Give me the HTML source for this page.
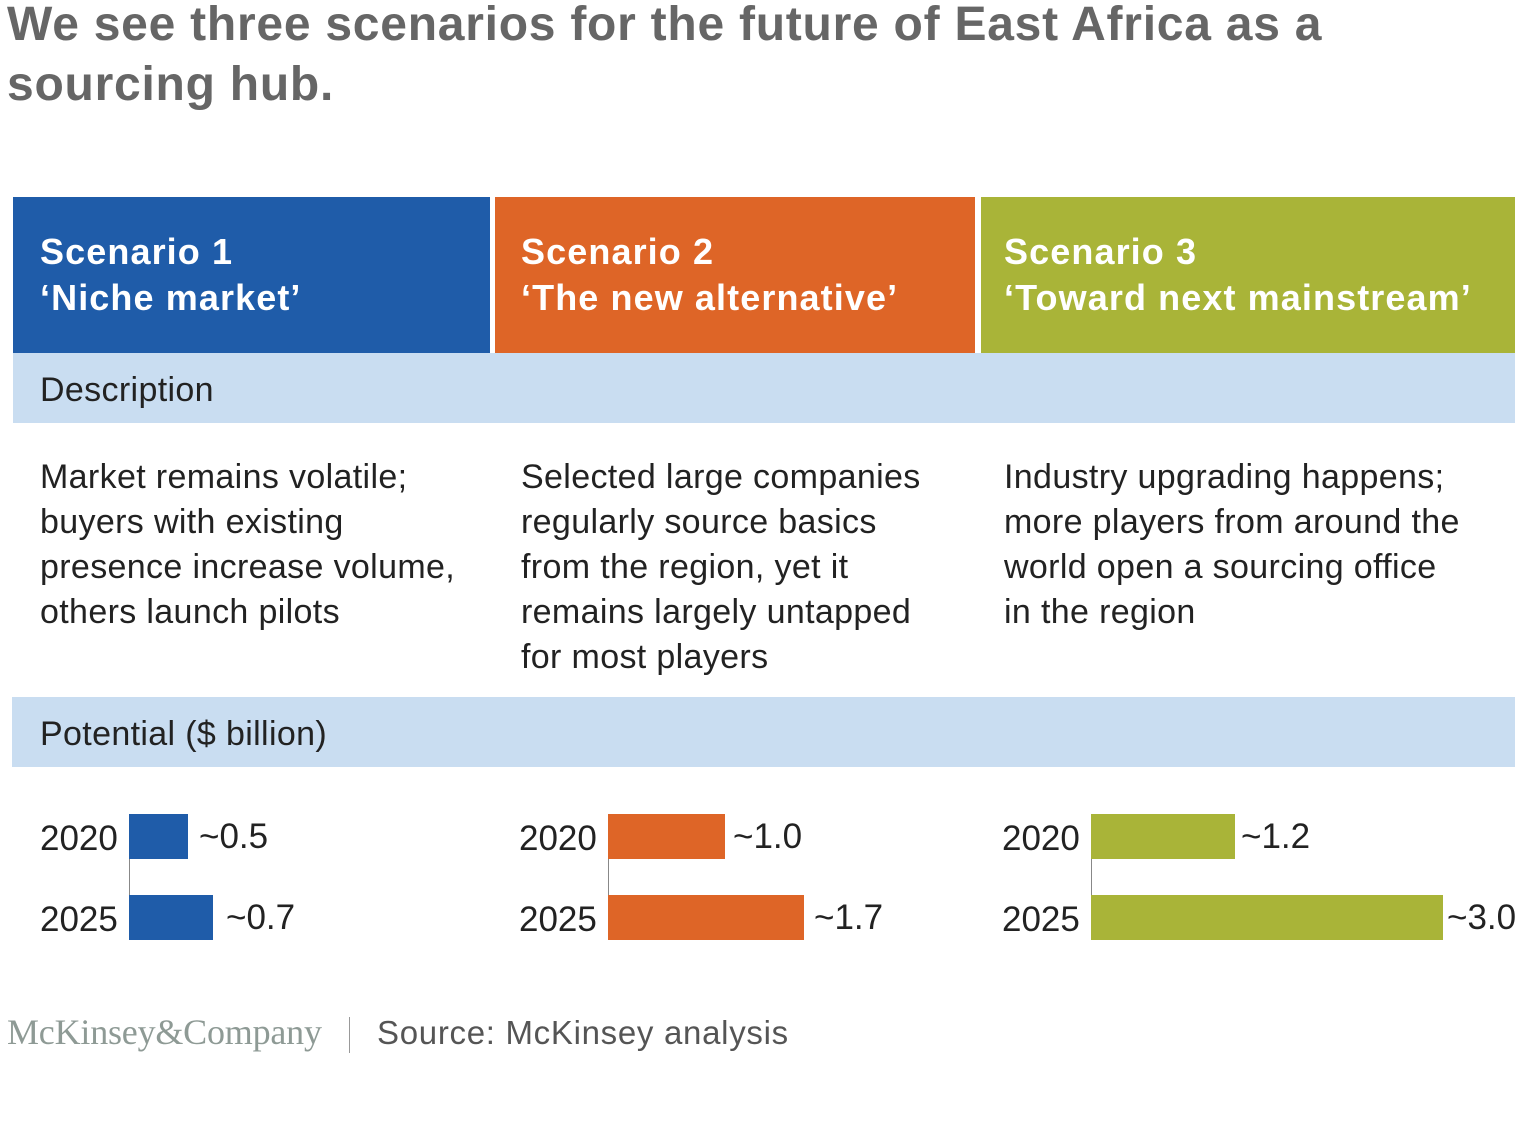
<!DOCTYPE html>
<html><head><meta charset="utf-8"><style>
body{margin:0;width:1536px;height:1123px;background:#fff;position:relative;overflow:hidden;font-family:"Liberation Sans",Arial,sans-serif}
.a{position:absolute;white-space:nowrap}
.t{font-size:48px;font-weight:bold;color:#666;left:7px;line-height:60px;letter-spacing:0.75px}
.h{color:#fff;font-weight:bold;font-size:36px;line-height:46px;letter-spacing:1.1px}
.b{font-size:34px;color:#222;line-height:45px;letter-spacing:0.35px}
.box{position:absolute}
.y{font-size:35px;color:#222}
</style></head><body>
<div class="a t" style="top:-5px">We see three scenarios for the future of East Africa as a<br>sourcing hub.</div>

<div class="box" style="left:13px;top:197px;width:477px;height:156px;background:#1f5ca9"></div>
<div class="box" style="left:495px;top:197px;width:480px;height:156px;background:#de6527"></div>
<div class="box" style="left:981px;top:197px;width:534px;height:156px;background:#a9b438"></div>
<div class="a h" style="left:40px;top:229px">Scenario 1<br>‘Niche market’</div>
<div class="a h" style="left:521px;top:229px">Scenario 2<br>‘The new alternative’</div>
<div class="a h" style="left:1004px;top:229px">Scenario 3<br>‘Toward next mainstream’</div>

<div class="box" style="left:13px;top:353px;width:1502px;height:70px;background:#c9ddf1"></div>
<div class="a b" style="left:40px;top:368px">Description</div>

<div class="a b" style="left:40px;top:455px">Market remains volatile;<br>buyers with existing<br>presence increase volume,<br>others launch pilots</div>
<div class="a b" style="left:521px;top:455px">Selected large companies<br>regularly source basics<br>from the region, yet it<br>remains largely untapped<br>for most players</div>
<div class="a b" style="left:1004px;top:455px">Industry upgrading happens;<br>more players from around the<br>world open a sourcing office<br>in the region</div>

<div class="box" style="left:12px;top:697px;width:1503px;height:70px;background:#c9ddf1"></div>
<div class="a b" style="left:40px;top:712px">Potential ($ billion)</div>

<div class="box" style="left:129px;top:859px;width:1px;height:36px;background:#888"></div>
<div class="box" style="left:129px;top:814px;width:59px;height:45px;background:#1f5ca9"></div>
<div class="box" style="left:129px;top:895px;width:84px;height:45px;background:#1f5ca9"></div>
<div class="a y" style="left:40px;top:819px">2020</div>
<div class="a y" style="left:40px;top:900px">2025</div>
<div class="a y" style="left:199px;top:817px">~0.5</div>
<div class="a y" style="left:226px;top:898px">~0.7</div>

<div class="box" style="left:608px;top:859px;width:1px;height:36px;background:#888"></div>
<div class="box" style="left:608px;top:814px;width:117px;height:45px;background:#de6527"></div>
<div class="box" style="left:608px;top:895px;width:196px;height:45px;background:#de6527"></div>
<div class="a y" style="left:519px;top:819px">2020</div>
<div class="a y" style="left:519px;top:900px">2025</div>
<div class="a y" style="left:733px;top:817px">~1.0</div>
<div class="a y" style="left:814px;top:898px">~1.7</div>

<div class="box" style="left:1091px;top:859px;width:1px;height:36px;background:#888"></div>
<div class="box" style="left:1091px;top:814px;width:144px;height:45px;background:#a9b438"></div>
<div class="box" style="left:1091px;top:895px;width:352px;height:45px;background:#a9b438"></div>
<div class="a y" style="left:1002px;top:819px">2020</div>
<div class="a y" style="left:1002px;top:900px">2025</div>
<div class="a y" style="left:1241px;top:817px">~1.2</div>
<div class="a y" style="left:1447px;top:898px">~3.0</div>

<div class="a" style="left:7px;top:1011px;font-family:'Liberation Serif',serif;font-size:36px;color:#8e9a95;letter-spacing:-0.2px">McKinsey&amp;Company</div>
<div class="box" style="left:349px;top:1017px;width:1px;height:36px;background:#999"></div>
<div class="a" style="left:377px;top:1014px;font-size:33px;color:#555;letter-spacing:0.7px">Source: McKinsey analysis</div>
</body></html>
